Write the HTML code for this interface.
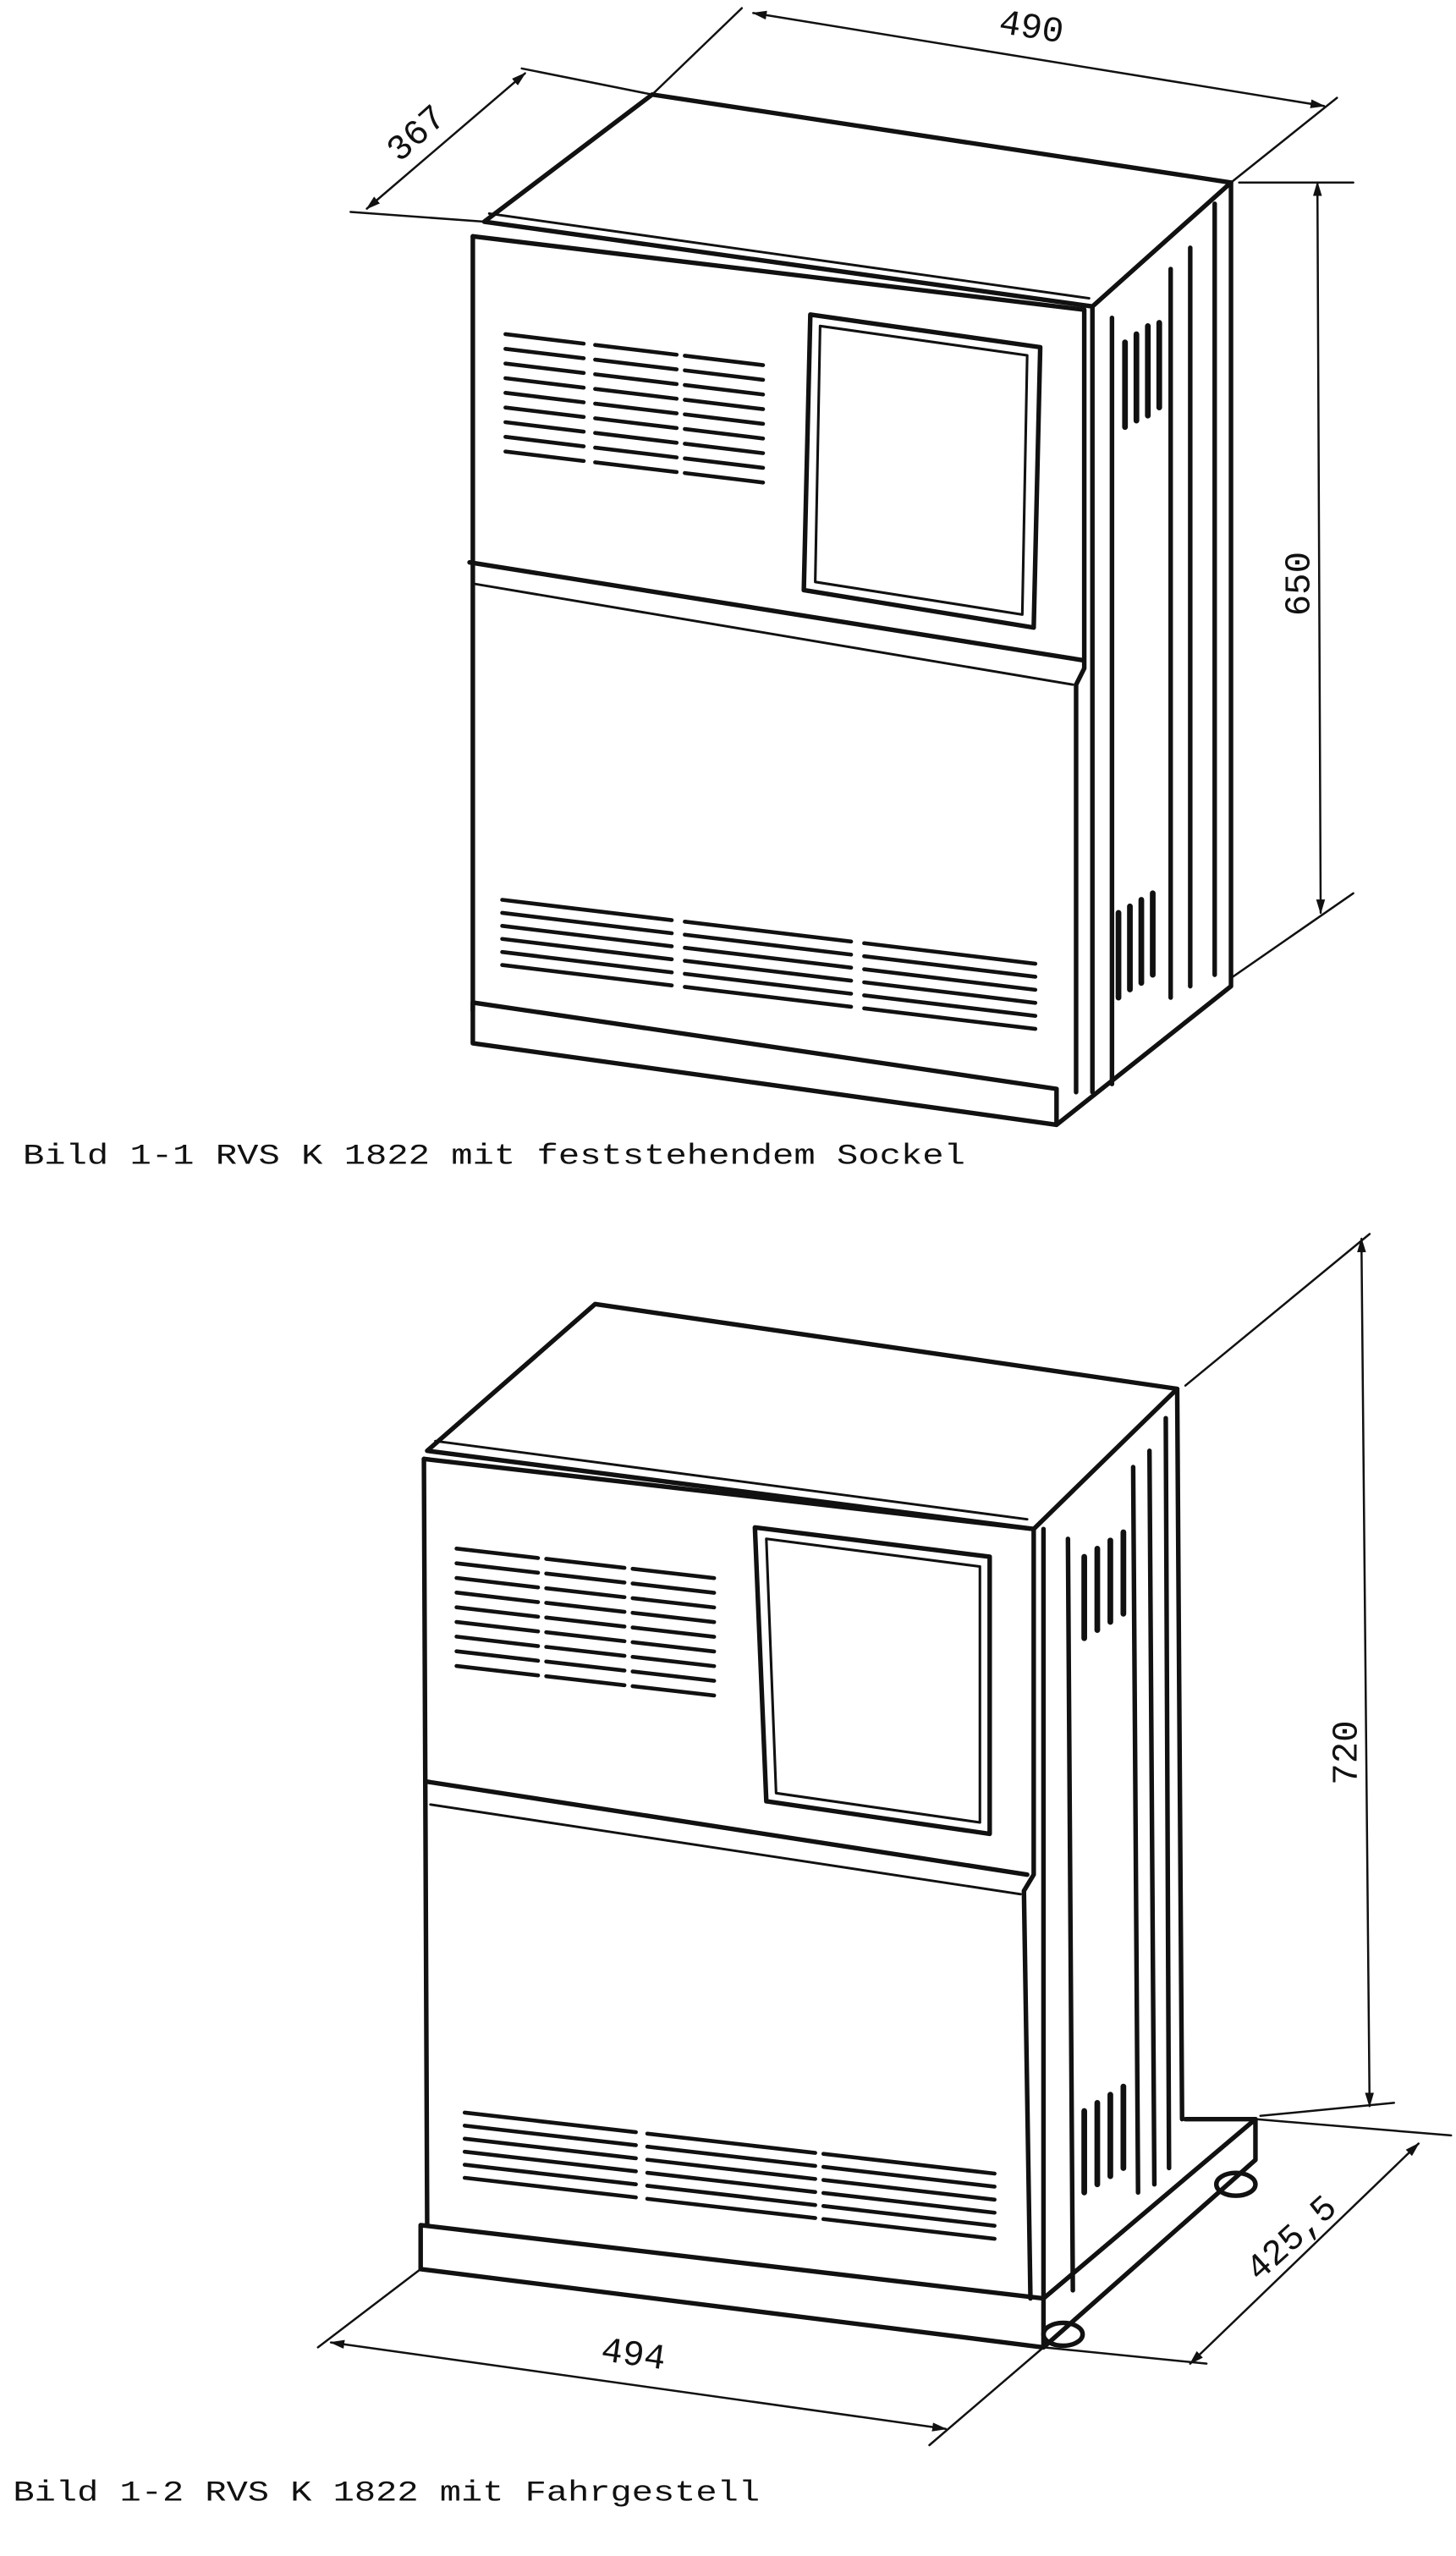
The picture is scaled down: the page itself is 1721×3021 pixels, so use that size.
<!DOCTYPE html>
<html><head><meta charset="utf-8"><style>
html,body{margin:0;padding:0;background:#fff;}
svg{display:block;}
text{font-family:"Liberation Mono",monospace;fill:#111;}
</style></head><body>
<svg width="1721" height="3021" viewBox="0 0 893 1568" preserveAspectRatio="none" xmlns="http://www.w3.org/2000/svg">
<defs>
<marker id="ar" viewBox="0 0 10 10" refX="9" refY="5" markerWidth="7" markerHeight="7" orient="auto-start-reverse"><path d="M0,2 L10,5 L0,8 z" fill="#111"/></marker>
<g id="v1"><line x1="310" y1="0" x2="358" y2="5.8"/><line x1="365" y1="6.6" x2="415" y2="12.6"/><line x1="420" y1="13.2" x2="468" y2="19"/></g>
<g id="b1"><line x1="308" y1="0" x2="412" y2="12.5"/><line x1="420" y1="13.4" x2="522" y2="25.6"/><line x1="530" y1="26.6" x2="635" y2="39.2"/></g>
<g id="v2"><line x1="280" y1="0" x2="330" y2="5.8"/><line x1="335" y1="6.3" x2="383" y2="11.8"/><line x1="388" y1="12.4" x2="438" y2="18.1"/></g>
<g id="b2"><line x1="285" y1="0" x2="390" y2="12"/><line x1="397" y1="12.9" x2="500" y2="24.7"/><line x1="505" y1="25.3" x2="610" y2="37.4"/></g>
</defs>
<g fill="none" stroke="#111" stroke-width="2.8" stroke-linejoin="round" stroke-linecap="round">
<!-- Drawing 1 -->
<polygon points="297,136 400,58 755,112 670,188"/>
<line x1="300" y1="131" x2="668" y2="183" stroke-width="1.5"/>
<path d="M290,145 L665,190 L665,410 L660,420 L660,670"/>
<line x1="290" y1="145" x2="290" y2="620"/>
<path d="M288,345 L664,405" />
<path d="M290,358 L658,420" stroke-width="1.5"/>
<path d="M290,615 L648,668 L648,690 L290,640 Z"/>
<path d="M670,188 L670,670 M755,112 L755,605 L648,690"/>
<line x1="682" y1="195" x2="682" y2="665"/>
<line x1="718" y1="165" x2="718" y2="612"/>
<line x1="730" y1="152" x2="730" y2="605"/>
<line x1="745" y1="125" x2="745" y2="598"/>
<polygon points="497,193 638,213 634,385 493,362"/>
<polygon points="503,200 630,218 627,377 500,357" stroke-width="1.6"/>
<g stroke-width="2.4">
<use href="#v1" y="205"/><use href="#v1" y="214"/><use href="#v1" y="223"/><use href="#v1" y="232"/><use href="#v1" y="241"/><use href="#v1" y="250"/><use href="#v1" y="259"/><use href="#v1" y="268"/><use href="#v1" y="277"/>
<use href="#b1" y="552"/><use href="#b1" y="560"/><use href="#b1" y="568"/><use href="#b1" y="576"/><use href="#b1" y="584"/><use href="#b1" y="592"/>
</g>
<g stroke-width="3.5">
<line x1="690" y1="210" x2="690" y2="262"/><line x1="697" y1="205" x2="697" y2="258"/><line x1="704" y1="200" x2="704" y2="255"/><line x1="711" y1="198" x2="711" y2="250"/>
<line x1="686" y1="560" x2="686" y2="612"/><line x1="693" y1="556" x2="693" y2="607"/><line x1="700" y1="552" x2="700" y2="603"/><line x1="707" y1="548" x2="707" y2="598"/>
</g>
<!-- dims 1 -->
<g stroke-width="1.3">
<line x1="400" y1="58" x2="455" y2="5"/><line x1="755" y1="112" x2="820" y2="60"/>
<line x1="462" y1="8" x2="812" y2="65" marker-start="url(#ar)" marker-end="url(#ar)"/>
<line x1="297" y1="136" x2="215" y2="130"/><line x1="400" y1="58" x2="320" y2="42"/>
<line x1="225" y1="128" x2="322" y2="45" marker-start="url(#ar)" marker-end="url(#ar)"/>
<line x1="760" y1="112" x2="830" y2="112"/><line x1="755" y1="600" x2="830" y2="548"/>
<line x1="808" y1="112" x2="810" y2="560" marker-start="url(#ar)" marker-end="url(#ar)"/>
</g>
<!-- Drawing 2 -->
<polygon points="262,890 365,800 722,852 634,938"/>
<line x1="267" y1="884" x2="630" y2="932" stroke-width="1.5"/>
<path d="M260,895 L634,938 L634,1150 L628,1160 L632,1410"/>
<line x1="260" y1="895" x2="262" y2="1365"/>
<path d="M262,1093 L630,1150"/>
<path d="M264,1107 L626,1162" stroke-width="1.5"/>
<path d="M258,1365 L640,1410 L640,1440 L258,1392 Z"/>
<path d="M640,1410 L770,1300 L770,1325 L640,1440"/>
<path d="M727,1300 L770,1300"/>
<path d="M640,938 L640,1410 M722,852 L725,1300"/>
<line x1="655" y1="944" x2="658" y2="1405"/>
<line x1="695" y1="900" x2="698" y2="1345"/>
<line x1="705" y1="890" x2="708" y2="1340"/>
<line x1="715" y1="870" x2="717" y2="1330"/>
<polygon points="463,937 607,955 607,1125 470,1105"/>
<polygon points="470,944 601,961 601,1118 476,1100" stroke-width="1.6"/>
<ellipse cx="652" cy="1432" rx="12" ry="7"/>
<ellipse cx="758" cy="1340" rx="12" ry="7"/>
<g stroke-width="2.4">
<use href="#v2" y="950"/><use href="#v2" y="959"/><use href="#v2" y="968"/><use href="#v2" y="977"/><use href="#v2" y="986"/><use href="#v2" y="995"/><use href="#v2" y="1004"/><use href="#v2" y="1013"/><use href="#v2" y="1022"/>
<use href="#b2" y="1296"/><use href="#b2" y="1304"/><use href="#b2" y="1312"/><use href="#b2" y="1320"/><use href="#b2" y="1328"/><use href="#b2" y="1336"/>
</g>
<g stroke-width="3.5">
<line x1="665" y1="955" x2="665" y2="1005"/><line x1="673" y1="950" x2="673" y2="1000"/><line x1="681" y1="945" x2="681" y2="995"/><line x1="689" y1="940" x2="689" y2="990"/>
<line x1="665" y1="1295" x2="665" y2="1345"/><line x1="673" y1="1290" x2="673" y2="1340"/><line x1="681" y1="1285" x2="681" y2="1335"/><line x1="689" y1="1280" x2="689" y2="1330"/>
</g>
<!-- dims 2 -->
<g stroke-width="1.3">
<line x1="727" y1="850" x2="840" y2="757"/>
<line x1="773" y1="1298" x2="855" y2="1290"/>
<line x1="835" y1="760" x2="840" y2="1292" marker-start="url(#ar)" marker-end="url(#ar)"/>
<line x1="770" y1="1300" x2="890" y2="1310"/>
<line x1="640" y1="1440" x2="740" y2="1450"/>
<line x1="730" y1="1450" x2="870" y2="1315" marker-start="url(#ar)" marker-end="url(#ar)"/>
<line x1="258" y1="1392" x2="195" y2="1440"/>
<line x1="640" y1="1440" x2="570" y2="1500"/>
<line x1="203" y1="1437" x2="580" y2="1490" marker-start="url(#ar)" marker-end="url(#ar)"/>
</g>
</g>
<text x="0" y="0" font-size="22" transform="translate(612,20) rotate(9)">490</text>
<text x="0" y="0" font-size="22" transform="translate(245,100) rotate(-42)">367</text>
<text x="0" y="0" font-size="22" transform="translate(803,378) rotate(-90)">650</text>
<text x="0" y="0" font-size="22" transform="translate(832,1095) rotate(-90)">720</text>
<text x="0" y="0" font-size="22" transform="translate(368,1448) rotate(8)">494</text>
<text x="0" y="0" font-size="22" transform="translate(772,1400) rotate(-42)">425,5</text>
<text x="14" y="714" font-size="18" textLength="578" lengthAdjust="spacingAndGlyphs">Bild 1-1  RVS K 1822 mit feststehendem Sockel</text>
<text x="8" y="1534" font-size="18" textLength="458" lengthAdjust="spacingAndGlyphs">Bild 1-2  RVS K 1822 mit Fahrgestell</text>
</svg>
</body></html>
